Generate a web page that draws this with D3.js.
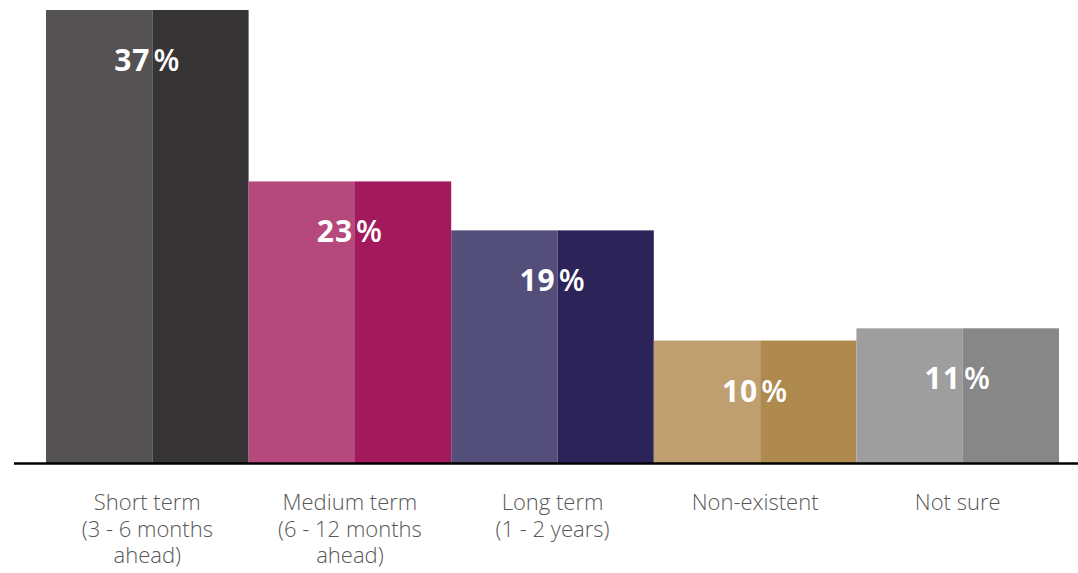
<!DOCTYPE html>
<html>
<head>
<meta charset="utf-8">
<script src="https://cdn.jsdelivr.net/npm/d3@7"></script>
<style>
  html, body { margin: 0; padding: 0; background: #fff; }
  svg { display: block; }
</style>
</head>
<body>
<svg id="chart" width="1078" height="573"></svg>
<script>
// Survey answers: expected time horizon
const categories = [
  ["Short term", "(3 - 6 months", "ahead)"],
  ["Medium term", "(6 - 12 months", "ahead)"],
  ["Long term", "(1 - 2 years)"],
  ["Non-existent"],
  ["Not sure"]
];
const values = [37, 23, 19, 10, 11];
const lightColors = ["#545253", "#b5497b", "#544e7a", "#bf9f70", "#9e9e9e"];
const darkColors  = ["#363435", "#a21a5c", "#2c2459", "#af8a4f", "#878787"];

const W = 1078, H = 573;
const plot = { left: 46, right: 1059, top: 10, bottom: 463 };

const svg = d3.select("#chart");

const x = d3.scaleBand()
  .domain(d3.range(values.length))
  .range([plot.left, plot.right])
  .paddingInner(0).paddingOuter(0);

const y = d3.scaleLinear()
  .domain([0, 37])
  .range([plot.bottom, plot.top]);

const split = 0.525; // share of each bar drawn in the lighter tone

const g = svg.append("g");

const bars = g.selectAll("g.bar")
  .data(values)
  .join("g")
  .attr("class", "bar");

bars.append("rect")
  .attr("x", (d, i) => x(i))
  .attr("y", d => y(d))
  .attr("width", x.bandwidth() * split)
  .attr("height", d => y(0) - y(d))
  .attr("fill", (d, i) => lightColors[i]);

bars.append("rect")
  .attr("x", (d, i) => x(i) + x.bandwidth() * split)
  .attr("y", d => y(d))
  .attr("width", x.bandwidth() * (1 - split))
  .attr("height", d => y(0) - y(d))
  .attr("fill", (d, i) => darkColors[i]);

// value labels
const vt = bars.append("text")
  .attr("x", (d, i) => x(i) + x.bandwidth() / 2)
  .attr("y", d => y(d) + 61)
  .attr("text-anchor", "middle")
  .attr("fill", "#ffffff")
  .style("font-family", "'Open Sans', sans-serif")
  .style("font-weight", "700")
  .style("font-size", "30px")
  .style("letter-spacing", "1px");
vt.append("tspan").text(d => d);
vt.append("tspan").attr("dx", 3).style("font-weight", "600").text("%");

// baseline
svg.append("line")
  .attr("x1", 14).attr("x2", W)
  .attr("y1", plot.bottom + 0.5).attr("y2", plot.bottom + 0.5)
  .attr("stroke", "#000")
  .attr("stroke-width", 2.5);

// category labels, one text per line
const labelGroups = svg.append("g")
  .selectAll("g")
  .data(categories)
  .join("g")
  .attr("transform", (d, i) => `translate(${x(i) + x.bandwidth() / 2},510)`);

labelGroups.selectAll("text")
  .data(d => d)
  .join("text")
  .attr("y", (d, j) => j * 26.5)
  .attr("text-anchor", "middle")
  .attr("fill", "#585858")
  .style("font-family", "'Open Sans', sans-serif")
  .style("font-weight", "300")
  .style("font-size", "22px")
  .text(d => d);
</script>
</body>
</html>
